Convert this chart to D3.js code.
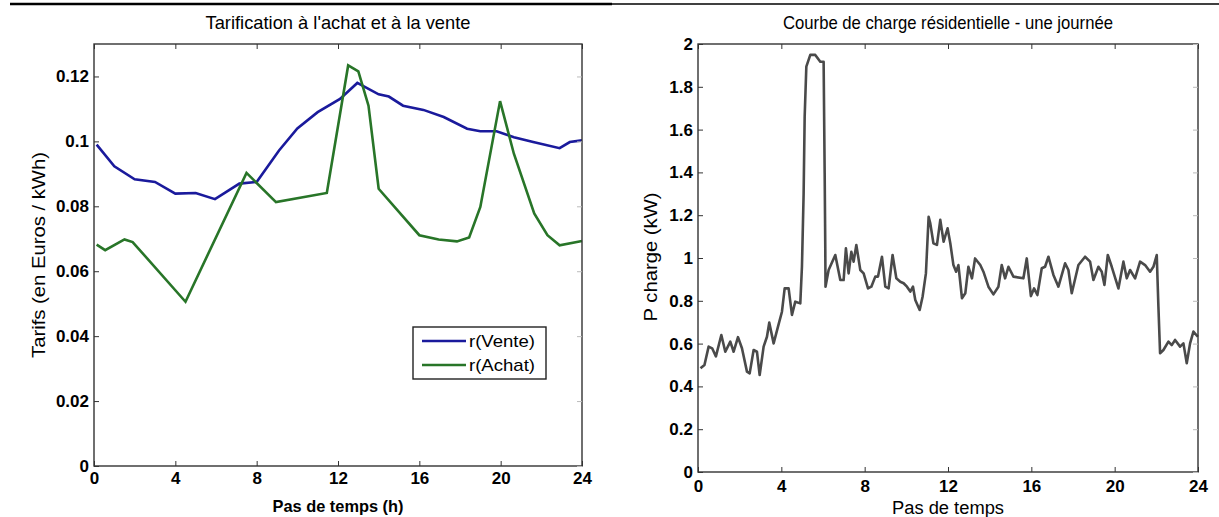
<!DOCTYPE html>
<html>
<head>
<meta charset="utf-8">
<script src="https://cdn.jsdelivr.net/npm/d3@7"></script>
<style>
body { margin: 0; background: #fff; }
svg text { font-family: "Liberation Sans", Arial, sans-serif; fill: #000; }
</style>
</head>
<body>
<svg id="chart" width="1219" height="517"></svg>
<script>
// left chart: tariffs
var venteHours = [0.13, 1, 2, 3, 4, 5, 5.95, 7.15, 8, 9.1, 10, 11, 12.1, 12.95, 14, 14.5, 15.2, 16.2, 17.2, 18.35, 19, 19.8, 20.65, 21.6, 22.9, 23.4, 24];
var venteValues = [0.099, 0.0923, 0.0883, 0.0875, 0.0839, 0.0841, 0.0822, 0.087, 0.0875, 0.0972, 0.104, 0.109, 0.1131, 0.118, 0.1145, 0.1138, 0.111, 0.1097, 0.1075, 0.1039, 0.1031, 0.1031, 0.1013, 0.0998, 0.0979, 0.0998, 0.1003];
var achatHours = [0.13, 0.55, 1.5, 1.9, 4.5, 7.5, 8.95, 11.45, 12.5, 13, 13.5, 14, 16, 16.95, 17.85, 18.45, 19, 19.97, 20.65, 21.65, 22.3, 22.9, 24];
var achatValues = [0.0682, 0.0665, 0.0698, 0.069, 0.0506, 0.0903, 0.0813, 0.0841, 0.1234, 0.1216, 0.111, 0.0854, 0.0711, 0.0698, 0.0692, 0.0704, 0.0798, 0.1124, 0.0962, 0.0778, 0.0711, 0.068, 0.0693];
var tarifTicks = [0, 0.02, 0.04, 0.06, 0.08, 0.1, 0.12];
var hourTicks = [0, 4, 8, 12, 16, 20, 24];
var legendLabels = ["r(Vente)", "r(Achat)"];

// right chart: residential load
var loadHours = [0.12, 0.31, 0.51, 0.68, 0.86, 1.12, 1.31, 1.55, 1.71, 1.92, 2.11, 2.35, 2.48, 2.67, 2.83, 2.96, 3.15, 3.31, 3.42, 3.63, 3.84, 4.03, 4.16, 4.35, 4.51, 4.67, 4.91, 4.99, 5.07, 5.12, 5.2, 5.39, 5.63, 5.87, 6.03, 6.08, 6.11, 6.12,
  6.27, 6.59, 6.83, 6.99, 7.1, 7.23, 7.36, 7.47, 7.6, 7.79, 7.95, 8.16, 8.32, 8.51, 8.64, 8.83, 8.99, 9.15, 9.34, 9.52, 9.71, 9.87, 10.03, 10.19, 10.32, 10.43, 10.64, 10.78, 10.94, 11.07, 11.15, 11.3, 11.47, 11.63, 11.79, 11.98,
  12.11, 12.26, 12.39, 12.5, 12.67, 12.83, 12.98, 13.15, 13.3, 13.55, 13.7, 13.94, 14.18, 14.42, 14.58, 14.74, 14.9, 15.14, 15.62, 15.78, 15.98, 16.13, 16.29, 16.5, 16.66, 16.82, 17.06, 17.3, 17.62, 17.78, 17.94,
  18.26, 18.58, 18.82, 18.98, 19.22, 19.38, 19.51, 19.67, 19.86, 20.18, 20.42, 20.58, 20.74, 20.98, 21.22, 21.46, 21.7, 21.86, 22.02, 22.1, 22.18, 22.34, 22.58, 22.74, 22.9, 23.14, 23.3, 23.46, 23.62, 23.78, 23.99];
var loadValues = [0.485, 0.5, 0.586, 0.578, 0.54, 0.64, 0.562, 0.609, 0.562, 0.63, 0.578, 0.469, 0.461, 0.57, 0.562, 0.453, 0.586, 0.632, 0.698, 0.601, 0.679, 0.749, 0.858, 0.858, 0.734, 0.796, 0.788, 0.96, 1.3, 1.66, 1.894, 1.949, 1.949, 1.917, 1.917, 1.397, 1.037, 0.866,
  0.944, 1.014, 0.897, 0.897, 1.045, 0.928, 1.029, 0.983, 1.061, 0.944, 0.928, 0.858, 0.866, 0.913, 0.913, 1.006, 0.866, 0.858, 1.014, 0.905, 0.889, 0.882, 0.866, 0.843, 0.866, 0.804, 0.757, 0.819, 0.928, 1.193, 1.162, 1.069, 1.061, 1.178, 1.076, 1.139,
  1.069, 0.967, 0.936, 0.967, 0.812, 0.835, 0.959, 0.905, 0.998, 0.967, 0.936, 0.866, 0.83, 0.866, 0.967, 0.905, 0.959, 0.913, 0.905, 0.998, 0.822, 0.858, 0.827, 0.952, 0.959, 1.006, 0.921, 0.866, 0.975, 0.944, 0.835,
  0.967, 1.006, 0.983, 0.897, 0.959, 0.936, 0.874, 1.014, 0.959, 0.858, 0.983, 0.905, 0.944, 0.905, 0.983, 0.967, 0.936, 0.959, 1.014, 0.772, 0.555, 0.57, 0.609, 0.593, 0.617, 0.586, 0.601, 0.508, 0.601, 0.656, 0.632];
var loadTicks = [0, 0.2, 0.4, 0.6, 0.8, 1, 1.2, 1.4, 1.6, 1.8, 2];

var svg = d3.select("#chart");

// rule at the top of the page
svg.append("line").attr("x1", 10).attr("x2", 612).attr("y1", 4).attr("y2", 4)
    .attr("stroke", "#000").attr("stroke-width", 2.5);
svg.append("line").attr("x1", 612).attr("x2", 1219).attr("y1", 4).attr("y2", 4)
    .attr("stroke", "#000").attr("stroke-width", 1.5);

function addText(g, x, y, txt, size, len, bold, rotate) {
    var t = g.append("text")
        .attr("transform", "translate(" + x + "," + y + ")" + (rotate ? " rotate(-90)" : ""))
        .attr("text-anchor", "middle").attr("font-size", size)
        .attr("textLength", len).attr("lengthAdjust", "spacingAndGlyphs")
        .text(txt);
    if (bold) t.attr("font-weight", "bold");
    return t;
}

function drawFrame(g, x, y, xticks, yticks, yfmt, xpad) {
    var x0 = x.range()[0], x1 = x.range()[1];
    var y0 = y.range()[0], y1 = y.range()[1];
    g.append("rect").attr("x", x0).attr("y", y1).attr("width", x1 - x0).attr("height", y0 - y1)
        .attr("fill", "none").attr("stroke", "#333").attr("stroke-width", 1.4);

    g.append("g").attr("transform", "translate(0," + y0 + ")")
        .call(d3.axisBottom(x).tickValues(xticks).tickSizeInner(-5).tickSizeOuter(0).tickPadding(xpad).tickFormat(d3.format("d")))
        .call(s => s.select(".domain").remove())
        .call(s => s.selectAll("line").attr("stroke", "#333"))
        .call(s => s.selectAll("text").attr("font-size", 17).attr("font-weight", "bold").attr("fill", "#111"));
    g.append("g").attr("transform", "translate(0," + y1 + ")")
        .call(d3.axisTop(x).tickValues(xticks).tickSizeInner(-5).tickSizeOuter(0).tickFormat(""))
        .call(s => s.select(".domain").remove())
        .call(s => s.selectAll("line").attr("stroke", "#333"));
    g.append("g").attr("transform", "translate(" + x0 + ",0)")
        .call(d3.axisLeft(y).tickValues(yticks).tickSizeInner(-5).tickSizeOuter(0).tickPadding(5).tickFormat(yfmt))
        .call(s => s.select(".domain").remove())
        .call(s => s.selectAll("line").attr("stroke", "#333"))
        .call(s => s.selectAll("text").attr("font-size", 17).attr("font-weight", "bold").attr("fill", "#111"));
    g.append("g").attr("transform", "translate(" + x1 + ",0)")
        .call(d3.axisRight(y).tickValues(yticks).tickSizeInner(-5).tickSizeOuter(0).tickFormat(""))
        .call(s => s.select(".domain").remove())
        .call(s => s.selectAll("line").attr("stroke", "#bbb"));
}

// ---------- left chart ----------
var xL = d3.scaleLinear().domain([0, 24]).range([94, 582]);
var yL = d3.scaleLinear().domain([0, 0.13]).range([466, 44]);
var gL = svg.append("g");

var lineL = d3.line().x(d => xL(d[0])).y(d => yL(d[1]));
gL.append("path").datum(d3.zip(venteHours, venteValues)).attr("d", lineL)
    .attr("fill", "none").attr("stroke", "#1a1a9c").attr("stroke-width", 2.6);
gL.append("path").datum(d3.zip(achatHours, achatValues)).attr("d", lineL)
    .attr("fill", "none").attr("stroke", "#287528").attr("stroke-width", 2.6);

drawFrame(gL, xL, yL, hourTicks, tarifTicks, d => d === 0 ? "0" : String(+d.toFixed(2)), 6);

addText(gL, 338, 29, "Tarification à l'achat et à la vente", 19, 265, false, false);
addText(gL, 338, 512, "Pas de temps (h)", 17, 131, true, false);
addText(gL, 45, 255, "Tarifs (en Euros / kWh)", 18, 206, false, true);

// legend
var leg = gL.append("g");
leg.append("rect").attr("x", 413).attr("y", 327).attr("width", 133).attr("height", 52)
    .attr("fill", "#fff").attr("stroke", "#222").attr("stroke-width", 1.4);
var legColors = ["#1a1a9c", "#287528"];
legendLabels.forEach(function(lab, i) {
    var yy = 341 + i * 24;
    leg.append("line").attr("x1", 422).attr("x2", 466).attr("y1", yy).attr("y2", yy)
        .attr("stroke", legColors[i]).attr("stroke-width", 2.6);
    leg.append("text").attr("x", 469).attr("y", yy + 6).attr("font-size", 17)
        .attr("textLength", 66).attr("lengthAdjust", "spacingAndGlyphs").text(lab);
});

// ---------- right chart ----------
var xR = d3.scaleLinear().domain([0, 24]).range([698, 1198]);
var yR = d3.scaleLinear().domain([0, 2]).range([472, 44]);
var gR = svg.append("g");

var lineR = d3.line().x(d => xR(d[0])).y(d => yR(d[1]));
gR.append("path").datum(d3.zip(loadHours, loadValues)).attr("d", lineR)
    .attr("fill", "none").attr("stroke", "#4a4a4a").attr("stroke-width", 2.6).attr("stroke-linejoin", "round");

drawFrame(gR, xR, yR, hourTicks, loadTicks, d => String(+d.toFixed(1)), 8);

addText(gR, 948, 29, "Courbe de charge résidentielle - une journée", 19, 330, false, false);
addText(gR, 948, 514, "Pas de temps", 18, 112, false, false);
addText(gR, 657, 257, "P charge (kW)", 18, 129, false, true);
</script>
</body>
</html>
